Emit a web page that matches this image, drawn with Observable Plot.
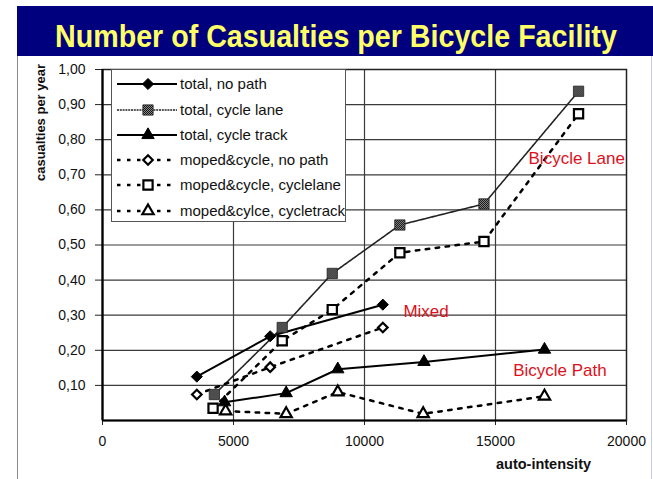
<!DOCTYPE html>
<html>
<head>
<meta charset="utf-8">
<script src="https://cdn.jsdelivr.net/npm/d3@7"></script>
<script src="https://cdn.jsdelivr.net/npm/@observablehq/plot@0.6"></script>
<style>
  html, body { margin: 0; padding: 0; background: #fff; }
  #wrap { position: relative; width: 653px; height: 479px; overflow: hidden; background: #fff;
          font-family: "Liberation Sans", Arial, sans-serif; }
  #title { position: absolute; left: 17px; top: 6px; width: 636px; height: 50px; background: #00007f; }
  #lborder { position: absolute; left: 17px; top: 56px; width: 1px; height: 423px; background: #8a8a8a; }
  #rborder { position: absolute; left: 651px; top: 56px; width: 1px; height: 423px; background: #c8cce0; }
  #legend { position: absolute; left: 111px; top: 69px; width: 235px; height: 153px; background: #fff;
            border: 1px solid #555; box-sizing: border-box; }
  #chart { position: absolute; left: 0; top: 0; }
</style>
</head>
<body>
<div id="wrap">
  <div id="chart"></div>
  <div id="lborder"></div>
  <div id="rborder"></div>
  <div id="title"></div>
  <div id="legend"></div>
</div>
<script>
// ---- data ----
const seriesNames = [
  "total, no path",
  "total, cycle lane",
  "total, cycle track",
  "moped&cycle, no path",
  "moped&cycle, cyclelane",
  "moped&cylce, cycletrack"
];
const xTotalNoPath   = [3600, 6400, 10700];
const yTotalNoPath   = [0.125, 0.24, 0.33];
const xTotalLane     = [4270, 6860, 8770, 11350, 14560, 18170];
const yTotalLane     = [0.074, 0.265, 0.419, 0.557, 0.617, 0.938];
const xTotalTrack    = [4660, 7010, 8980, 12270, 16870];
const yTotalTrack    = [0.052, 0.078, 0.146, 0.167, 0.202];
const xMopedNoPath   = [3600, 6400, 10700];
const yMopedNoPath   = [0.074, 0.152, 0.265];
const xMopedLane     = [4220, 6860, 8770, 11350, 14560, 18170];
const yMopedLane     = [0.035, 0.227, 0.316, 0.478, 0.51, 0.874];
const xMopedTrack    = [4700, 7010, 8980, 12240, 16870];
const yMopedTrack    = [0.027, 0.019, 0.081, 0.019, 0.069];

const xTicks = [0, 5000, 10000, 15000, 20000];
const yTicks = [0.1, 0.2, 0.3, 0.4, 0.5, 0.6, 0.7, 0.8, 0.9, 1.0];

const annotationText = ["Bicycle Lane", "Mixed", "Bicycle Path"];
const annotationX    = [18100, 12350, 17460];
const annotationY    = [0.746, 0.309, 0.143];

const titleText = "Number of Casualties per Bicycle Facility";
const yLabel = "casualties per year";
const xLabel = "auto-intensity";

// ---- build tables ----
const seriesX = [xTotalNoPath, xTotalLane, xTotalTrack, xMopedNoPath, xMopedLane, xMopedTrack];
const seriesY = [yTotalNoPath, yTotalLane, yTotalTrack, yMopedNoPath, yMopedLane, yMopedTrack];
const seriesData = seriesNames.map((name, i) =>
  seriesX[i].map((x, j) => ({series: name, x, y: seriesY[i][j]})));
const annotations = annotationText.map((t, i) => ({t, x: annotationX[i], y: annotationY[i]}));

const dashM = "3.5,6.5";
const styles = [
  {line: {stroke: "#000", strokeWidth: 2}, dot: {symbol: "diamond2", r: 5, fill: "#000", stroke: "#000", strokeWidth: 1}},
  {line: {stroke: "#222", strokeWidth: 1.6, strokeDasharray: "2,0.8"}, dot: {symbol: "square", r: 5.8, fill: "url(#chk)", stroke: "#222", strokeWidth: 0.8}},
  {line: {stroke: "#000", strokeWidth: 2}, dot: {symbol: "triangle", r: 4.6, fill: "#000", stroke: "#000", strokeWidth: 1}},
  {line: {stroke: "#000", strokeWidth: 2.5, strokeDasharray: dashM}, dot: {symbol: "diamond2", r: 4.3, fill: "#fff", stroke: "#000", strokeWidth: 2.2}},
  {line: {stroke: "#000", strokeWidth: 2.5, strokeDasharray: dashM}, dot: {symbol: "square", r: 5.2, fill: "#fff", stroke: "#000", strokeWidth: 2.2}},
  {line: {stroke: "#000", strokeWidth: 2.5, strokeDasharray: dashM}, dot: {symbol: "triangle", r: 4.2, fill: "#fff", stroke: "#000", strokeWidth: 2.2}}
];

const seriesMarks = [];
seriesData.forEach((rows, i) => {
  seriesMarks.push(Plot.line(rows, {x: "x", y: "y", ...styles[i].line}));
});
seriesData.forEach((rows, i) => {
  seriesMarks.push(Plot.dot(rows, {x: "x", y: "y", ...styles[i].dot}));
});

const chart = Plot.plot({
  width: 653,
  height: 479,
  marginLeft: 102,
  marginRight: 27,
  marginTop: 69,
  marginBottom: 59,
  style: {fontFamily: "'Liberation Sans', Arial, sans-serif", fontSize: "14px", color: "#111", background: "transparent"},
  x: {domain: [0, 20000]},
  y: {domain: [0, 1]},
  marks: [
    Plot.gridY(yTicks.slice(0, -1), {stroke: "#3a3a3a", strokeOpacity: 1, strokeWidth: 1.2}),
    Plot.gridX(xTicks.slice(1, -1), {stroke: "#3a3a3a", strokeOpacity: 1, strokeWidth: 1.2}),
    Plot.axisX(xTicks, {tickSize: 5, tickPadding: 11, label: null, fontSize: 14, stroke: "#222",
                        tickFormat: d => String(d)}),
    Plot.axisY(yTicks, {tickSize: 7, tickPadding: 10, label: null, fontSize: 14, stroke: "#222",
                        tickFormat: d => d.toFixed(2).replace(".", ",")}),
    Plot.frame({stroke: "#222", strokeWidth: 1.5}),
    Plot.ruleX([0], {stroke: "#000", strokeWidth: 2.2}),
    Plot.ruleY([0], {stroke: "#000", strokeWidth: 2.2}),
    ...seriesMarks,
    Plot.text(annotations, {x: "x", y: "y", text: "t", fill: "#dd1020", fontSize: 17, textAnchor: "middle", lineAnchor: "middle"}),
    Plot.text([yLabel], {text: d => d, frameAnchor: "top-left", dx: -62, dy: 53, rotate: -90,
                         fontWeight: "bold", fontSize: 13, textAnchor: "middle", lineAnchor: "middle", fill: "#111"}),
    Plot.text([xLabel], {text: d => d, frameAnchor: "bottom-right", dx: -83, dy: 44,
                         fontWeight: "bold", fontSize: 14.5, textAnchor: "middle", lineAnchor: "middle", fill: "#111"})
  ]
});

// checker pattern for the "total, cycle lane" markers
const ns = "http://www.w3.org/2000/svg";
const defs = document.createElementNS(ns, "defs");
defs.innerHTML = '<pattern id="chk" width="2" height="2" patternUnits="userSpaceOnUse">' +
  '<rect width="2" height="2" fill="#8a8a8a"/><rect width="1" height="1" fill="#111"/>' +
  '<rect x="1" y="1" width="1" height="1" fill="#111"/></pattern>';
chart.insertBefore(defs, chart.firstChild);
document.getElementById("chart").appendChild(chart);

// title: bold text horizontally condensed to fit the band
const tsvg = d3.select("#title").append("svg").attr("width", 636).attr("height", 50)
  .style("position", "absolute").style("left", 0).style("top", 0).style("overflow", "visible");
const ttext = tsvg.append("text").attr("x", 0).attr("y", 0)
  .attr("font-family", "'Liberation Sans', Arial, sans-serif").attr("font-weight", "bold")
  .attr("font-size", 32).attr("fill", "#ffff66").text(titleText);
const natural = ttext.node().getComputedTextLength();
const sx = 562 / natural;
ttext.attr("transform", `translate(38,41) scale(${sx},1)`);

// legend (HTML box with small SVG samples)
const legend = d3.select("#legend");
const lsvg = legend.append("svg").attr("width", 233).attr("height", 151)
  .style("position", "absolute").style("left", 0).style("top", 0);
lsvg.append("defs").html('<pattern id="chk2" width="2" height="2" patternUnits="userSpaceOnUse">' +
  '<rect width="2" height="2" fill="#8a8a8a"/><rect width="1" height="1" fill="#111"/>' +
  '<rect x="1" y="1" width="1" height="1" fill="#111"/></pattern>');
const rowY = [14, 40, 65, 90, 115, 141];
const symMap = {diamond2: d3.symbolDiamond2, square: d3.symbolSquare, triangle: d3.symbolTriangle};
seriesNames.forEach((name, i) => {
  const st = styles[i];
  const g = lsvg.append("g").attr("transform", `translate(0,${rowY[i]})`);
  g.append("line").attr("x1", 5).attr("x2", 65).attr("y1", 0).attr("y2", 0)
    .attr("stroke", st.line.stroke).attr("stroke-width", st.line.strokeWidth)
    .attr("stroke-dasharray", st.line.strokeDasharray || null);
  const r = st.dot.r;
  g.append("path").attr("transform", "translate(36,0)")
    .attr("d", d3.symbol(symMap[st.dot.symbol], Math.PI * r * r)())
    .attr("fill", st.dot.fill === "url(#chk)" ? "url(#chk2)" : st.dot.fill)
    .attr("stroke", st.dot.stroke).attr("stroke-width", st.dot.strokeWidth);
  g.append("text").attr("x", 68).attr("y", 0).attr("dy", "0.35em")
    .attr("font-family", "'Liberation Sans', Arial, sans-serif").attr("font-size", 15).attr("fill", "#111")
    .text(name);
});
</script>
</body>
</html>
